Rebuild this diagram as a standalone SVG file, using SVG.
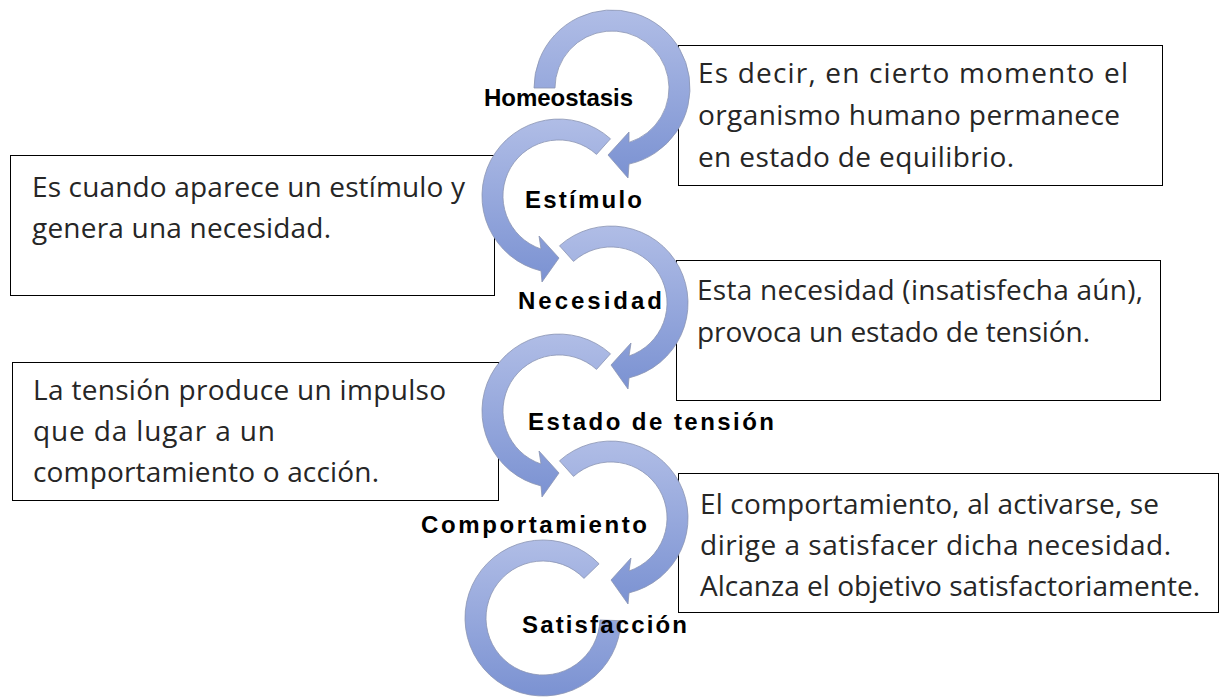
<svg xmlns="http://www.w3.org/2000/svg" width="1225" height="700" viewBox="0 0 1225 700">
<defs>
<linearGradient id="g" x1="0" y1="0" x2="0" y2="1">
<stop offset="0" stop-color="#b0bde6"/>
<stop offset="1" stop-color="#7b92d2"/>
</linearGradient>
<path id="arrA" d="M -51.5 -57.2 A 77 77 0 1 1 18 74.9 L 17 86 L 0 62 L 20 40 L 18 53 A 56 56 0 1 0 -37.5 -41.6 Z"/>
</defs>
<style>
.box{fill:#fff;stroke:#000;stroke-width:1}
.arr{fill:url(#g);stroke:#8a94b2;stroke-width:0.8}
.t{font-family:"Open Sans","Noto Sans",sans-serif;font-size:28px;fill:#262626}
.lbl{font-family:"Liberation Sans",Arial,sans-serif;font-weight:bold;font-size:24px;fill:#000}
</style>
<rect width="1225" height="700" fill="#fff"/>

<g id="box-homeostasis">
<rect class="box" x="678.5" y="45.5" width="484" height="140"/>
<text class="t" x="698" y="83" textLength="430" lengthAdjust="spacing">Es decir, en cierto momento el</text>
<text class="t" x="698" y="125" textLength="422" lengthAdjust="spacing">organismo humano permanece</text>
<text class="t" x="698" y="167" textLength="316" lengthAdjust="spacing">en estado de equilibrio.</text>
</g>
<g id="box-estimulo">
<rect class="box" x="10.5" y="155.5" width="484" height="140"/>
<text class="t" x="32" y="197" textLength="433" lengthAdjust="spacing">Es cuando aparece un estímulo y</text>
<text class="t" x="32" y="238" textLength="299" lengthAdjust="spacing">genera una necesidad.</text>
</g>
<g id="box-necesidad">
<rect class="box" x="676.5" y="260.5" width="484" height="140"/>
<text class="t" x="697" y="300" textLength="446" lengthAdjust="spacing">Esta necesidad (insatisfecha aún),</text>
<text class="t" x="697" y="342" textLength="393" lengthAdjust="spacing">provoca un estado de tensión.</text>
</g>
<g id="box-tension">
<rect class="box" x="12.5" y="362.5" width="486" height="138"/>
<text class="t" x="33" y="400" textLength="413" lengthAdjust="spacing">La tensión produce un impulso</text>
<text class="t" x="33" y="441" textLength="242" lengthAdjust="spacing">que da lugar a un</text>
<text class="t" x="33" y="482" textLength="346" lengthAdjust="spacing">comportamiento o acción.</text>
</g>
<g id="box-comportamiento">
<rect class="box" x="678.5" y="473.5" width="540" height="139"/>
<text class="t" x="700" y="514" textLength="459" lengthAdjust="spacing">El comportamiento, al activarse, se</text>
<text class="t" x="700" y="555" textLength="471" lengthAdjust="spacing">dirige a satisfacer dicha necesidad.</text>
<text class="t" x="700" y="596" textLength="500" lengthAdjust="spacing">Alcanza el objetivo satisfactoriamente.</text>
</g>

<g id="connectors">
<path class="arr" transform="translate(612,88)" d="M -78 0 A 78 78 0 1 1 17 76.1 L 16 90 L -4 67 L 17 44 L 17 54.4 A 57 57 0 1 0 -57 0 Z"/>
<use href="#arrA" class="arr" transform="translate(559,196) scale(-1,1)"/>
<use href="#arrA" class="arr" transform="translate(611,303)"/>
<use href="#arrA" class="arr" transform="translate(559,411) scale(-1,1)"/>
<use href="#arrA" class="arr" transform="translate(611,518)"/>
<path class="arr" transform="translate(543,618)" d="M 56.1 -54.2 A 78 78 0 1 0 77.95 2.7 L 56.97 2 A 57 57 0 1 1 41 -39.6 Z"/>
</g>

<g id="node-homeostasis"><text class="lbl" x="484" y="106" textLength="149" lengthAdjust="spacing">Homeostasis</text></g>
<g id="node-estimulo"><text class="lbl" x="525" y="208" textLength="117" lengthAdjust="spacing">Estímulo</text></g>
<g id="node-necesidad"><text class="lbl" x="518" y="309" textLength="144" lengthAdjust="spacing">Necesidad</text></g>
<g id="node-tension"><text class="lbl" x="528" y="430" textLength="246" lengthAdjust="spacing">Estado de tensión</text></g>
<g id="node-comportamiento"><text class="lbl" x="421" y="533" textLength="226" lengthAdjust="spacing">Comportamiento</text></g>
<g id="node-satisfaccion"><text class="lbl" x="522" y="633" textLength="165" lengthAdjust="spacing">Satisfacción</text></g>
</svg>
